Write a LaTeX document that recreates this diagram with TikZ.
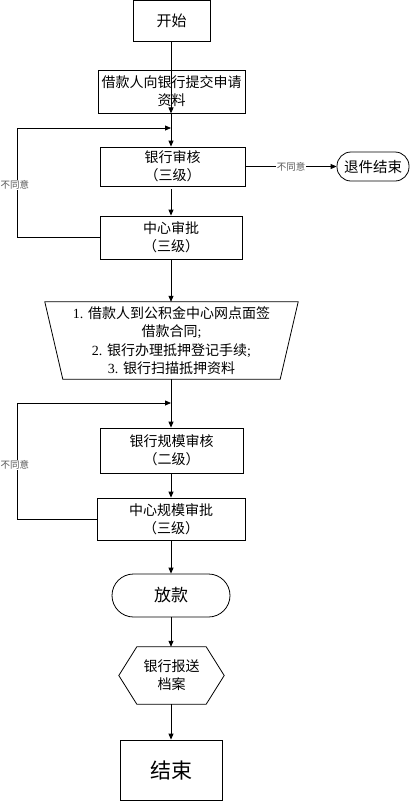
\documentclass[tikz,border=0pt]{standalone}
\usepackage{fontspec}
\setmainfont{Liberation Serif}
\newfontfamily\cjk{Noto Sans CJK SC}
\newfontfamily\lat{Liberation Serif}
\usetikzlibrary{arrows.meta}
\begin{document}
\begin{tikzpicture}[x=1pt,y=-1pt,
  box/.style={draw, line width=0.8pt, inner sep=0pt, align=center,
    font=\cjk\fontsize{14}{18}\selectfont},
  plain/.style={inner sep=0pt, align=center, font=\cjk\fontsize{14}{18.3}\selectfont},
  arr/.style={-{Triangle[length=6pt,width=5pt]}, line width=0.8pt},
  ln/.style={line width=0.8pt},
  lab/.style={font=\cjk\fontsize{9.5}{10}\selectfont, text=black!65, fill=white, inner sep=1pt}]
\useasboundingbox (0,0) rectangle (410,801);
\fill[white] (0,0) rectangle (410,801);

\node[box, minimum width=77pt, minimum height=41pt, font=\cjk\fontsize{15}{18}\selectfont] (start) at (171.5,21) {开始};
\node[box, minimum width=147pt, minimum height=43pt] (apply) at (171.5,91.5) {借款人向银行提交申请\\资料};
\node[box, minimum width=145pt, minimum height=39pt] (bank) at (172.5,166.5) {银行审核\\（三级）};
\node[box, minimum width=142pt, minimum height=43pt] (cen) at (171,237.5) {中心审批\\（三级）};
\node[box, rounded corners=14pt, minimum width=72pt, minimum height=29pt, font=\cjk\fontsize{14.5}{18}\selectfont] (exit) at (373,166.5) {退件结束};

\node[plain, minimum width=253pt, minimum height=77pt] (trap) at (171.5,340.5)
  {{\lat 1. }借款人到公积金中心网点面签\\借款合同{\lat ;}\\{\lat 2. }银行办理抵押登记手续{\lat ;}\\{\lat 3. }银行扫描抵押资料};
\draw[ln] (trap.north west) -- (trap.north east) -- ([xshift=-18pt]trap.south east)
  -- ([xshift=18pt]trap.south west) -- cycle;

\node[box, minimum width=143pt, minimum height=45pt] (bank2) at (171.5,450.5) {银行规模审核\\（二级）};
\node[box, minimum width=148pt, minimum height=42pt] (cen2) at (171,519) {中心规模审批\\（三级）};
\node[box, rounded corners=21.5pt, minimum width=118pt, minimum height=43pt, font=\cjk\fontsize{17}{18}\selectfont] (fang) at (171,595.5) {放款};

\node[plain, minimum width=105pt, minimum height=57pt] (hex) at (171.5,675.5) {银行报送\\档案};
\draw[ln] (hex.west) -- ([xshift=18pt]hex.north west) -- ([xshift=-18pt]hex.north east)
  -- (hex.east) -- ([xshift=-18pt]hex.south east) -- ([xshift=18pt]hex.south west) -- cycle;

\node[box, minimum width=102pt, minimum height=60pt, font=\cjk\fontsize{21}{24}\selectfont] (end) at (171,770) {结束};

% connectors
\coordinate (m1) at (171,128);
\coordinate (m2) at (171,403);
\coordinate (l1) at (17,128);
\coordinate (l2) at (17,403);
\draw[arr] (start.south -| m1) -- (apply.south -| m1 |- apply.north);
\draw[arr] (apply.south -| m1) -- (bank.north -| m1);
\draw[arr] (cen.west) -- (cen.west -| l1) -- (l1) -- (m1);
\node[lab] (lab1) at (15,185) {不同意};
\draw[arr] (bank.east) -- node[lab] (lab2) {不同意} (exit.west);
\draw[arr, shorten <=3pt] (bank.south -| m1) -- (cen.north -| m1);
\draw[arr] (cen.south -| m1) -- (trap.north -| m1);
\draw[arr] (trap.south -| m1) -- (bank2.north -| m1);
\draw[arr] (cen2.west) -- (cen2.west -| l2) -- (l2) -- (m2);
\node[lab] (lab3) at (15,465) {不同意};
\draw[arr] (bank2.south -| m1) -- (cen2.north -| m1);
\draw[arr] (cen2.south -| m1) -- (fang.north -| m1);
\draw[arr] (fang.south -| m1) -- (hex.north -| m1);
\draw[arr] (hex.south -| m1) -- (end.north -| m1);
\end{tikzpicture}
\end{document}
